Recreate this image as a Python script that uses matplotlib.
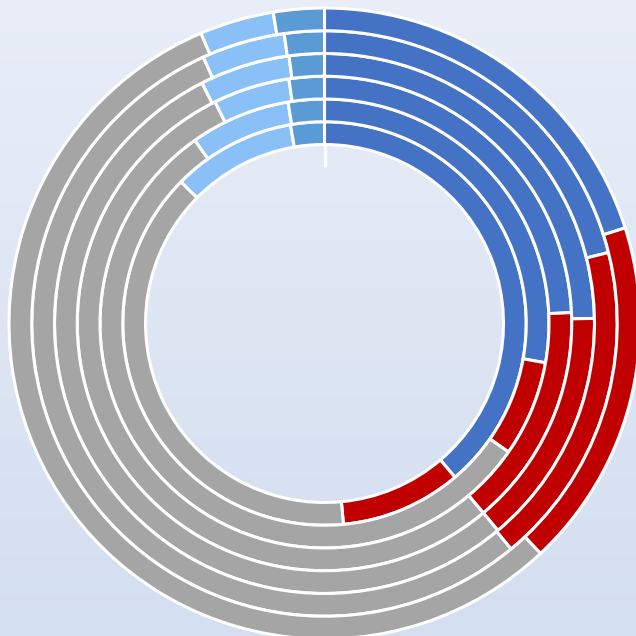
import numpy as np
import matplotlib
matplotlib.use("Agg")
import matplotlib.pyplot as plt

# share of each segment (percent), inner ring first, clockwise from 12 o'clock
blue = [38.8, 27.8, 24.3, 24.7, 21.1, 20.1]
red = [9.7, 6.9, 14.6, 14.2, 17.9, 17.9]
gray = [38.9, 55.5, 53.8, 53.6, 54.2, 55.6]
light_blue = [9.9, 7.2, 5.0, 5.4, 4.6, 3.8]
mid_blue = [2.7, 2.6, 2.3, 2.1, 2.2, 2.6]

colors = ["#4472C4", "#C00000", "#A5A5A5", "#8AC0F8", "#5B9BD5"]

W, H = 636, 636
cx, cy = 324.5, 323.5       # centre in pixels (from top)
r_in, r_out = 179.0, 315.5
ring_w = (r_out - r_in) / len(blue)

fig = plt.figure(figsize=(W / 100, H / 100), dpi=100)

# background gradient
bg = fig.add_axes([0, 0, 1, 1])
grad = np.linspace(0, 1, 256).reshape(-1, 1)
top = np.array([233, 238, 248]) / 255
bot = np.array([211, 222, 240]) / 255
img = top + (bot - top) * grad[:, :, None]
bg.imshow(img, aspect="auto", extent=[0, 1, 0, 1])
bg.set_axis_off()

ax = fig.add_axes([0, 0, 1, 1])
ax.set_xlim(-cx, W - cx)
ax.set_ylim(-(H - cy), cy)
ax.set_aspect("equal")
ax.set_axis_off()
ax.patch.set_alpha(0)

for i in range(len(blue)):
    vals = [blue[i], red[i], gray[i], light_blue[i], mid_blue[i]]
    ax.pie(vals, radius=r_in + ring_w * (i + 1), colors=colors,
           startangle=90, counterclock=False,
           wedgeprops=dict(width=ring_w, edgecolor="white", linewidth=2.2))

# small white tick below the inner ring at 12 o'clock
ax.plot([0, 0], [r_in, r_in - 22], color="white", lw=2.4, solid_capstyle="butt")

ax.set_xlim(-cx, W - cx)
ax.set_ylim(-(H - cy), cy)

fig.savefig("out.png", dpi=100)
